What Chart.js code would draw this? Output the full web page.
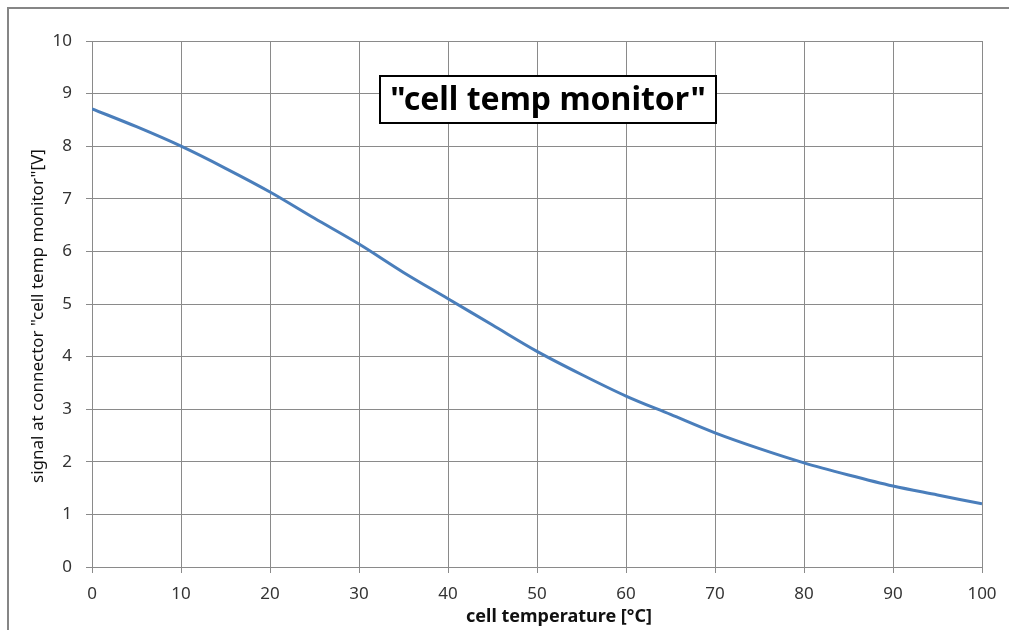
<!DOCTYPE html>
<html>
<head>
<meta charset="utf-8">
<script src="https://cdn.jsdelivr.net/npm/chart.js@4/dist/chart.umd.min.js"></script>
<style>
  html, body { margin: 0; padding: 0; background: #fff; }
  #wrap { width: 1009px; height: 630px; position: relative; }
</style>
</head>
<body>
<div id="wrap"><canvas id="tempChart"></canvas></div>
<script>
// values
const temperatures = [0, 5, 10, 15, 20, 25, 30, 35, 40, 45, 50, 55, 60, 65, 70, 75, 80, 85, 90, 95, 100];
const signalVolts = [8.71, 8.37, 8.0, 7.58, 7.13, 6.63, 6.14, 5.6, 5.1, 4.6, 4.1, 3.66, 3.25, 2.9, 2.55, 2.25, 1.98, 1.75, 1.54, 1.37, 1.2];
const chartTitle = '"cell temp monitor"';
const xTitle = 'cell temperature [°C]';
const yTitle = 'signal at connector "cell temp monitor"[V]';

const FONT = '"Noto Sans", "Open Sans", sans-serif';

// shrink a font until the text fits the width seen in the reference
function fitFont(ctx, text, weight, size, maxWidth) {
    ctx.font = weight + ' ' + size + 'px ' + FONT;
    while (ctx.measureText(text).width > maxWidth && size > 8) {
        size -= 0.5;
        ctx.font = weight + ' ' + size + 'px ' + FONT;
    }
}

// outer frame, title box and axis titles
const decorPlugin = {
    id: 'decor',
    beforeDraw(chart) {
        const ctx = chart.ctx;
        ctx.save();
        ctx.fillStyle = '#fff';
        ctx.fillRect(0, 0, chart.width, chart.height);
        ctx.strokeStyle = '#868686';
        ctx.lineWidth = 2;
        ctx.strokeRect(8, 8, chart.width + 20, chart.height + 20);
        ctx.restore();
    },
    afterDraw(chart) {
        const ctx = chart.ctx;
        ctx.save();

        // title box inside plot
        const boxX = 380, boxY = 76, boxW = 336, boxH = 47;
        ctx.fillStyle = '#fff';
        ctx.fillRect(boxX, boxY, boxW, boxH);
        ctx.strokeStyle = '#000';
        ctx.lineWidth = 2;
        ctx.strokeRect(boxX, boxY, boxW, boxH);
        ctx.fillStyle = '#000';
        fitFont(ctx, chartTitle, 'bold', 32, 318);
        ctx.textAlign = 'center';
        ctx.textBaseline = 'middle';
        ctx.fillText(chartTitle, boxX + boxW / 2, boxY + boxH / 2 + 1);

        // x axis title
        ctx.fillStyle = '#111';
        fitFont(ctx, xTitle, 'bold', 18, 186);
        ctx.fillText(xTitle, 559, 617);

        // y axis title
        ctx.translate(38, 316);
        ctx.rotate(-Math.PI / 2);
        fitFont(ctx, yTitle, 'normal', 19, 338);
        ctx.fillText(yTitle, 0, 0);
        ctx.restore();
    }
};

new Chart(document.getElementById('tempChart'), {
    type: 'line',
    data: {
        labels: temperatures,
        datasets: [{
            data: temperatures.map((t, i) => ({ x: t, y: signalVolts[i] })),
            borderColor: '#4a7ebb',
            borderWidth: 3,
            pointRadius: 0,
            cubicInterpolationMode: 'monotone',
            fill: false
        }]
    },
    options: {
        responsive: true,
        maintainAspectRatio: false,
        animation: false,
        layout: { padding: { top: 41, right: 27, left: 0, bottom: 0 } },
        plugins: {
            legend: { display: false },
            tooltip: { enabled: false }
        },
        scales: {
            x: {
                type: 'linear',
                min: 0,
                max: 100,
                ticks: {
                    stepSize: 10,
                    padding: 11,
                    color: '#333',
                    font: { family: FONT, size: 17 }
                },
                grid: { color: '#8a8a8a', tickLength: 6 },
                border: { color: '#8a8a8a' },
                afterFit(scale) { scale.height = 63; }
            },
            y: {
                min: 0,
                max: 10,
                ticks: {
                    stepSize: 1,
                    padding: 14,
                    color: '#333',
                    font: { family: FONT, size: 17 }
                },
                grid: { color: '#8a8a8a', tickLength: 6 },
                border: { color: '#8a8a8a' },
                afterFit(scale) { scale.width = 92; }
            }
        }
    },
    plugins: [decorPlugin]
});
</script>
</body>
</html>
